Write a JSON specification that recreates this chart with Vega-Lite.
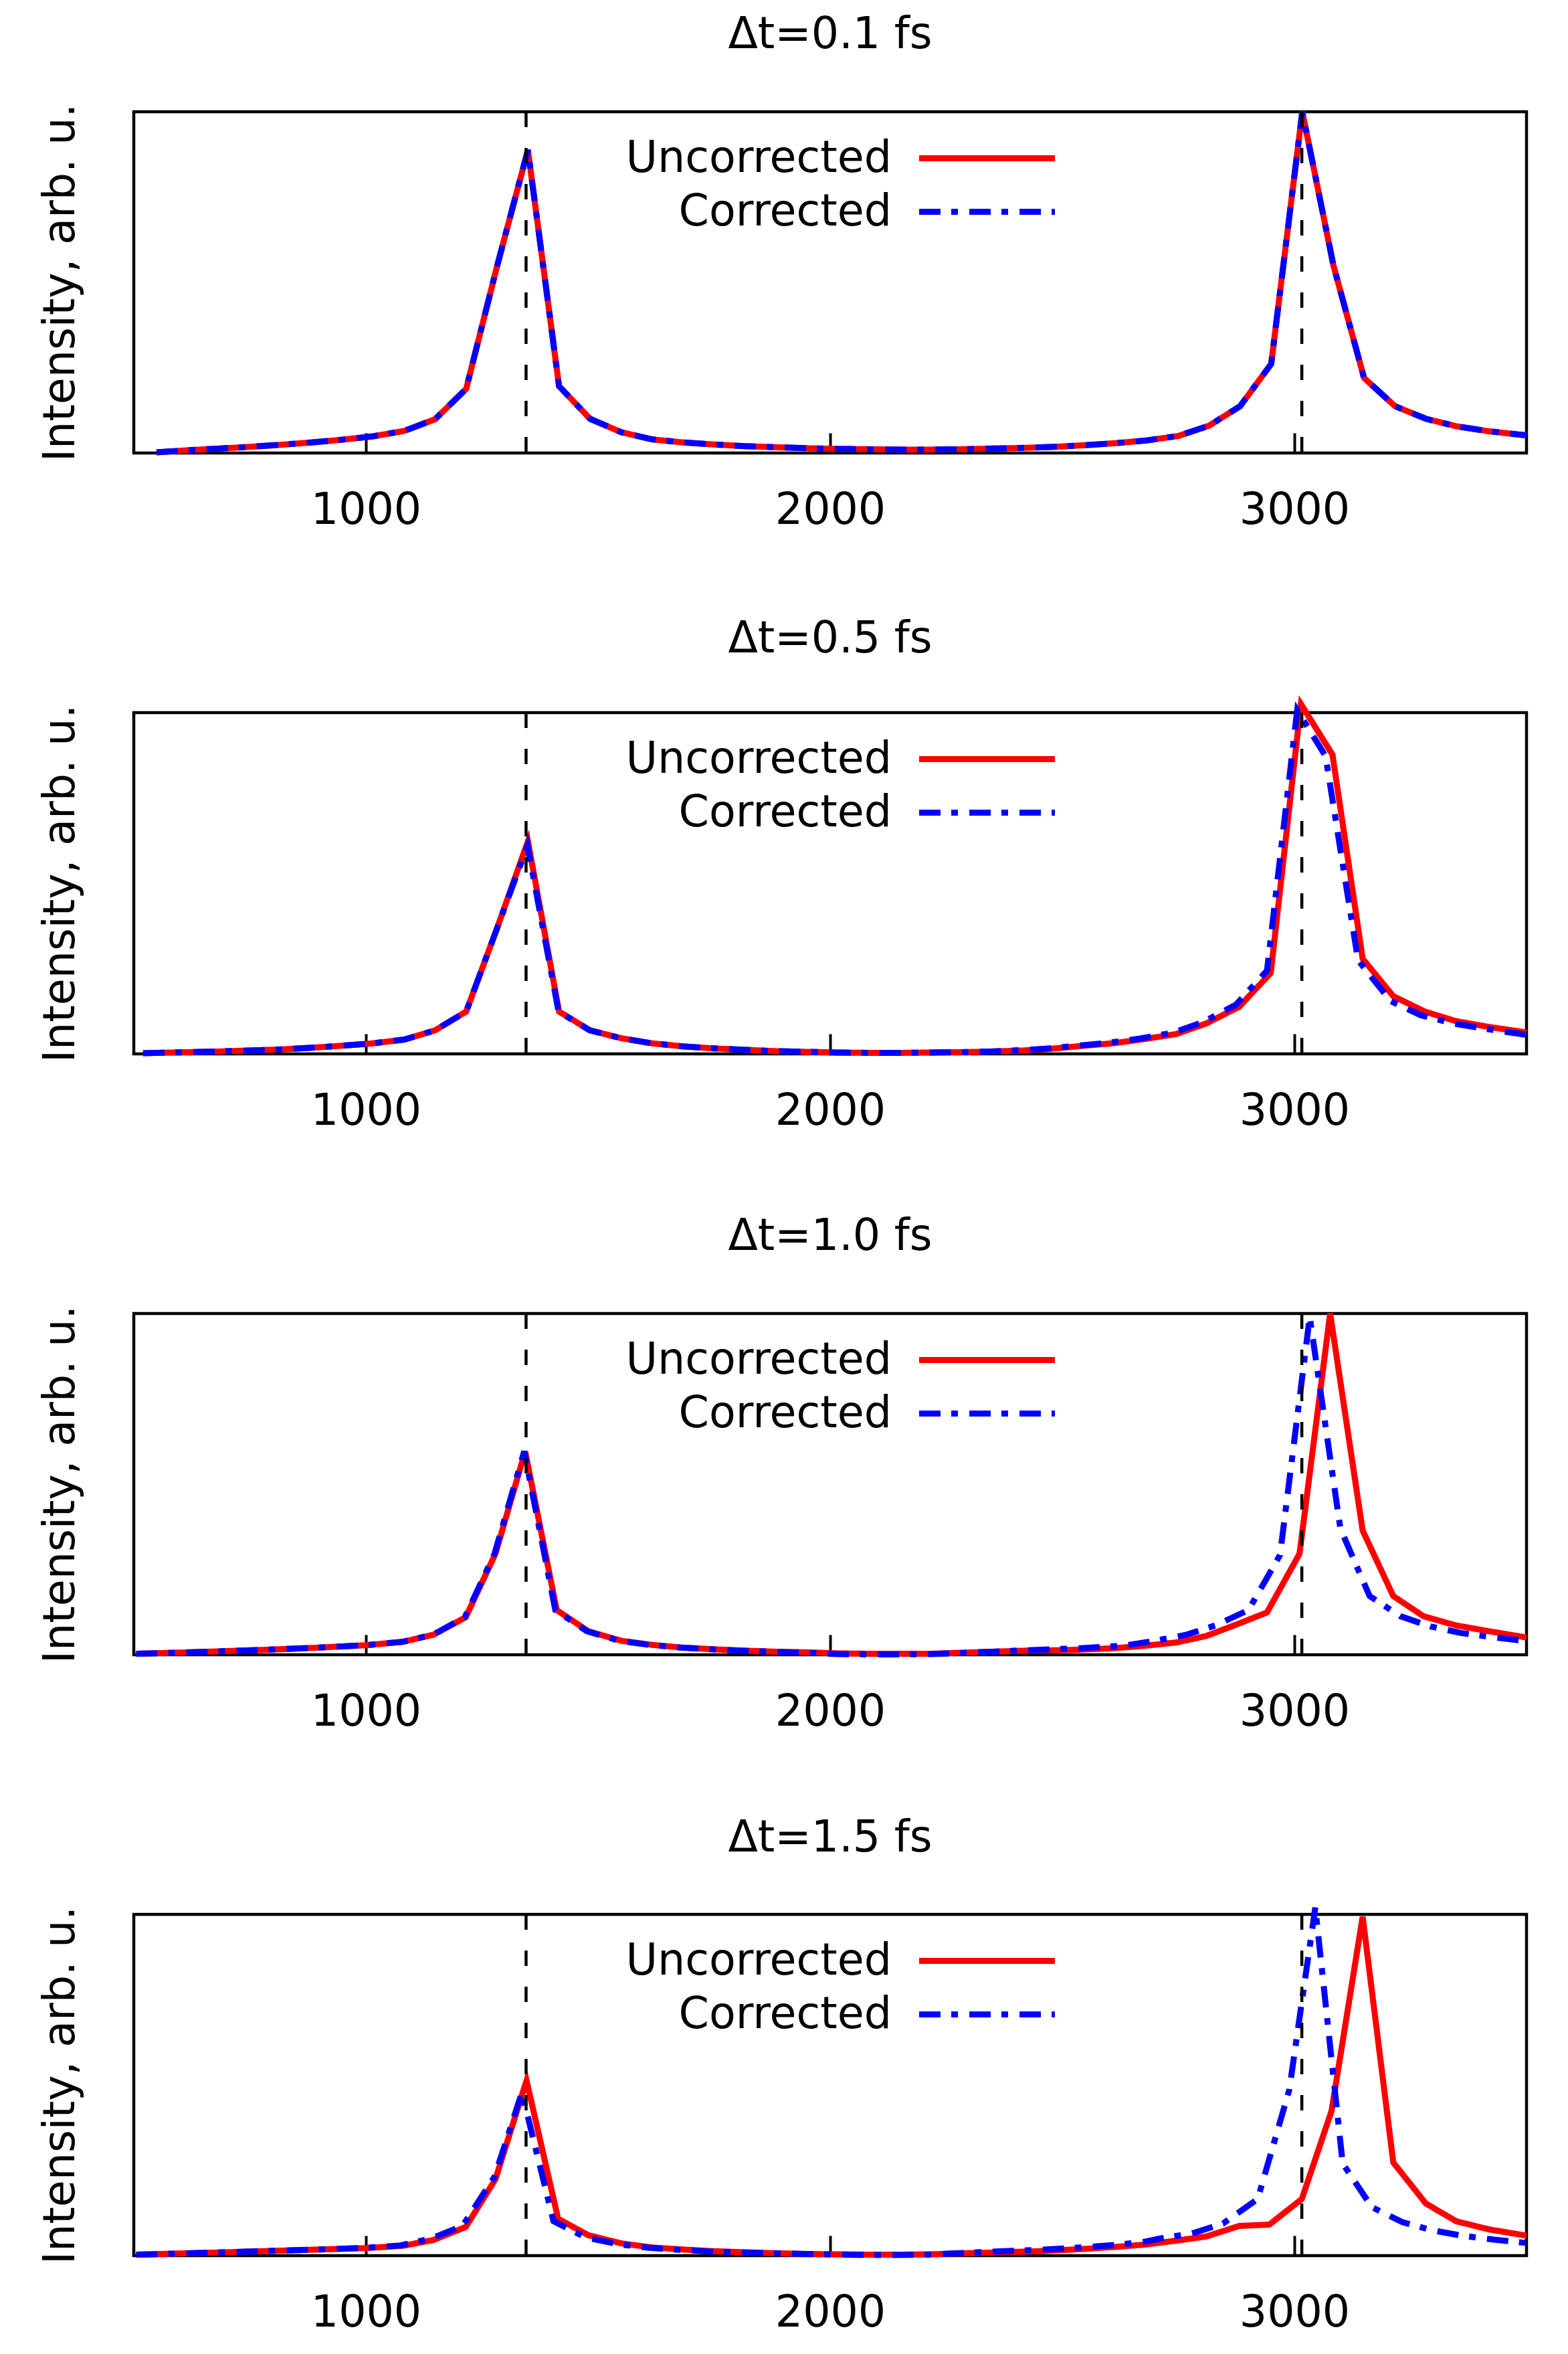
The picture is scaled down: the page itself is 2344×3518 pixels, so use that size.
{
  "$schema": "https://vega.github.io/schema/vega-lite/v6.json",
  "description": "Vibrational spectra for four time steps, uncorrected vs corrected.",
  "background": "white",
  "padding": {"left": 55, "top": 17, "right": 10, "bottom": 10},
  "config": {
    "font": "DejaVu Sans",
    "view": {"stroke": "black", "strokeWidth": 4.5},
    "title": {"fontSize": 65, "fontWeight": "normal", "color": "black", "baseline": "alphabetic", "offset": 63, "anchor": "middle", "frame": "group"},
    "axisX": {"tickSize": -30, "tickWidth": 4, "tickColor": "black", "domain": false, "grid": false, "labelFontSize": 65, "labelColor": "black", "labelPadding": 84, "labelLimit": 0, "title": null},
    "axisY": {"labels": false, "ticks": false, "domain": false, "grid": false, "titleFontSize": 65, "titleFontWeight": "normal", "titleColor": "black", "titlePadding": 76},
    "legend": {"symbolType": "M-4,0H4", "symbolSize": 2576, "symbolStrokeWidth": 9, "labelAlign": "right", "labelOffset": -175, "labelFontSize": 65, "labelColor": "black", "padding": 0, "rowPadding": 14, "labelLimit": 0}
  },
  "datasets": {
    "refs": [{"x": 1345}, {"x": 3016}],
    "spectra": [
      {"p": "0.1", "s": "Uncorrected", "x": 549, "y": 0.002},
      {"p": "0.1", "s": "Uncorrected", "x": 616, "y": 0.008},
      {"p": "0.1", "s": "Uncorrected", "x": 683, "y": 0.013},
      {"p": "0.1", "s": "Uncorrected", "x": 749, "y": 0.018},
      {"p": "0.1", "s": "Uncorrected", "x": 816, "y": 0.024},
      {"p": "0.1", "s": "Uncorrected", "x": 883, "y": 0.031},
      {"p": "0.1", "s": "Uncorrected", "x": 949, "y": 0.039},
      {"p": "0.1", "s": "Uncorrected", "x": 1016, "y": 0.049},
      {"p": "0.1", "s": "Uncorrected", "x": 1083, "y": 0.065},
      {"p": "0.1", "s": "Uncorrected", "x": 1149, "y": 0.099},
      {"p": "0.1", "s": "Uncorrected", "x": 1216, "y": 0.188},
      {"p": "0.1", "s": "Uncorrected", "x": 1283, "y": 0.55},
      {"p": "0.1", "s": "Uncorrected", "x": 1349, "y": 0.888},
      {"p": "0.1", "s": "Uncorrected", "x": 1416, "y": 0.196},
      {"p": "0.1", "s": "Uncorrected", "x": 1483, "y": 0.1},
      {"p": "0.1", "s": "Uncorrected", "x": 1550, "y": 0.061},
      {"p": "0.1", "s": "Uncorrected", "x": 1616, "y": 0.04},
      {"p": "0.1", "s": "Uncorrected", "x": 1683, "y": 0.031},
      {"p": "0.1", "s": "Uncorrected", "x": 1750, "y": 0.025},
      {"p": "0.1", "s": "Uncorrected", "x": 1816, "y": 0.02},
      {"p": "0.1", "s": "Uncorrected", "x": 1883, "y": 0.017},
      {"p": "0.1", "s": "Uncorrected", "x": 1950, "y": 0.014},
      {"p": "0.1", "s": "Uncorrected", "x": 2016, "y": 0.012},
      {"p": "0.1", "s": "Uncorrected", "x": 2083, "y": 0.011},
      {"p": "0.1", "s": "Uncorrected", "x": 2149, "y": 0.01},
      {"p": "0.1", "s": "Uncorrected", "x": 2216, "y": 0.01},
      {"p": "0.1", "s": "Uncorrected", "x": 2283, "y": 0.011},
      {"p": "0.1", "s": "Uncorrected", "x": 2350, "y": 0.013},
      {"p": "0.1", "s": "Uncorrected", "x": 2416, "y": 0.015},
      {"p": "0.1", "s": "Uncorrected", "x": 2483, "y": 0.018},
      {"p": "0.1", "s": "Uncorrected", "x": 2550, "y": 0.023},
      {"p": "0.1", "s": "Uncorrected", "x": 2616, "y": 0.029},
      {"p": "0.1", "s": "Uncorrected", "x": 2683, "y": 0.037},
      {"p": "0.1", "s": "Uncorrected", "x": 2750, "y": 0.05},
      {"p": "0.1", "s": "Uncorrected", "x": 2816, "y": 0.08},
      {"p": "0.1", "s": "Uncorrected", "x": 2883, "y": 0.137},
      {"p": "0.1", "s": "Uncorrected", "x": 2950, "y": 0.261},
      {"p": "0.1", "s": "Uncorrected", "x": 3017, "y": 1.0},
      {"p": "0.1", "s": "Uncorrected", "x": 3084, "y": 0.55},
      {"p": "0.1", "s": "Uncorrected", "x": 3150, "y": 0.22},
      {"p": "0.1", "s": "Uncorrected", "x": 3217, "y": 0.137},
      {"p": "0.1", "s": "Uncorrected", "x": 3284, "y": 0.1},
      {"p": "0.1", "s": "Uncorrected", "x": 3350, "y": 0.078},
      {"p": "0.1", "s": "Uncorrected", "x": 3417, "y": 0.064},
      {"p": "0.1", "s": "Uncorrected", "x": 3484, "y": 0.054},
      {"p": "0.1", "s": "Uncorrected", "x": 3500, "y": 0.052},
      {"p": "0.1", "s": "Corrected", "x": 549, "y": 0.002},
      {"p": "0.1", "s": "Corrected", "x": 616, "y": 0.008},
      {"p": "0.1", "s": "Corrected", "x": 683, "y": 0.013},
      {"p": "0.1", "s": "Corrected", "x": 749, "y": 0.018},
      {"p": "0.1", "s": "Corrected", "x": 816, "y": 0.024},
      {"p": "0.1", "s": "Corrected", "x": 883, "y": 0.031},
      {"p": "0.1", "s": "Corrected", "x": 949, "y": 0.039},
      {"p": "0.1", "s": "Corrected", "x": 1016, "y": 0.049},
      {"p": "0.1", "s": "Corrected", "x": 1083, "y": 0.065},
      {"p": "0.1", "s": "Corrected", "x": 1149, "y": 0.099},
      {"p": "0.1", "s": "Corrected", "x": 1216, "y": 0.188},
      {"p": "0.1", "s": "Corrected", "x": 1283, "y": 0.55},
      {"p": "0.1", "s": "Corrected", "x": 1349, "y": 0.888},
      {"p": "0.1", "s": "Corrected", "x": 1416, "y": 0.196},
      {"p": "0.1", "s": "Corrected", "x": 1483, "y": 0.1},
      {"p": "0.1", "s": "Corrected", "x": 1550, "y": 0.061},
      {"p": "0.1", "s": "Corrected", "x": 1616, "y": 0.04},
      {"p": "0.1", "s": "Corrected", "x": 1683, "y": 0.031},
      {"p": "0.1", "s": "Corrected", "x": 1750, "y": 0.025},
      {"p": "0.1", "s": "Corrected", "x": 1816, "y": 0.02},
      {"p": "0.1", "s": "Corrected", "x": 1883, "y": 0.017},
      {"p": "0.1", "s": "Corrected", "x": 1950, "y": 0.014},
      {"p": "0.1", "s": "Corrected", "x": 2016, "y": 0.012},
      {"p": "0.1", "s": "Corrected", "x": 2083, "y": 0.011},
      {"p": "0.1", "s": "Corrected", "x": 2149, "y": 0.01},
      {"p": "0.1", "s": "Corrected", "x": 2216, "y": 0.01},
      {"p": "0.1", "s": "Corrected", "x": 2283, "y": 0.011},
      {"p": "0.1", "s": "Corrected", "x": 2350, "y": 0.013},
      {"p": "0.1", "s": "Corrected", "x": 2416, "y": 0.015},
      {"p": "0.1", "s": "Corrected", "x": 2483, "y": 0.018},
      {"p": "0.1", "s": "Corrected", "x": 2550, "y": 0.023},
      {"p": "0.1", "s": "Corrected", "x": 2616, "y": 0.029},
      {"p": "0.1", "s": "Corrected", "x": 2683, "y": 0.037},
      {"p": "0.1", "s": "Corrected", "x": 2750, "y": 0.05},
      {"p": "0.1", "s": "Corrected", "x": 2816, "y": 0.08},
      {"p": "0.1", "s": "Corrected", "x": 2883, "y": 0.137},
      {"p": "0.1", "s": "Corrected", "x": 2950, "y": 0.261},
      {"p": "0.1", "s": "Corrected", "x": 3017, "y": 1.0},
      {"p": "0.1", "s": "Corrected", "x": 3084, "y": 0.55},
      {"p": "0.1", "s": "Corrected", "x": 3150, "y": 0.22},
      {"p": "0.1", "s": "Corrected", "x": 3217, "y": 0.137},
      {"p": "0.1", "s": "Corrected", "x": 3284, "y": 0.1},
      {"p": "0.1", "s": "Corrected", "x": 3350, "y": 0.078},
      {"p": "0.1", "s": "Corrected", "x": 3417, "y": 0.064},
      {"p": "0.1", "s": "Corrected", "x": 3484, "y": 0.054},
      {"p": "0.1", "s": "Corrected", "x": 3500, "y": 0.052},

      {"p": "0.5", "s": "Uncorrected", "x": 520, "y": 0.002},
      {"p": "0.5", "s": "Uncorrected", "x": 549, "y": 0.003},
      {"p": "0.5", "s": "Uncorrected", "x": 616, "y": 0.005},
      {"p": "0.5", "s": "Uncorrected", "x": 683, "y": 0.007},
      {"p": "0.5", "s": "Uncorrected", "x": 749, "y": 0.01},
      {"p": "0.5", "s": "Uncorrected", "x": 816, "y": 0.013},
      {"p": "0.5", "s": "Uncorrected", "x": 883, "y": 0.018},
      {"p": "0.5", "s": "Uncorrected", "x": 949, "y": 0.024},
      {"p": "0.5", "s": "Uncorrected", "x": 1016, "y": 0.031},
      {"p": "0.5", "s": "Uncorrected", "x": 1083, "y": 0.042},
      {"p": "0.5", "s": "Uncorrected", "x": 1149, "y": 0.069},
      {"p": "0.5", "s": "Uncorrected", "x": 1216, "y": 0.124},
      {"p": "0.5", "s": "Uncorrected", "x": 1283, "y": 0.37},
      {"p": "0.5", "s": "Uncorrected", "x": 1349, "y": 0.623},
      {"p": "0.5", "s": "Uncorrected", "x": 1416, "y": 0.124},
      {"p": "0.5", "s": "Uncorrected", "x": 1483, "y": 0.069},
      {"p": "0.5", "s": "Uncorrected", "x": 1550, "y": 0.046},
      {"p": "0.5", "s": "Uncorrected", "x": 1616, "y": 0.031},
      {"p": "0.5", "s": "Uncorrected", "x": 1683, "y": 0.022},
      {"p": "0.5", "s": "Uncorrected", "x": 1750, "y": 0.016},
      {"p": "0.5", "s": "Uncorrected", "x": 1816, "y": 0.012},
      {"p": "0.5", "s": "Uncorrected", "x": 1883, "y": 0.008},
      {"p": "0.5", "s": "Uncorrected", "x": 1950, "y": 0.006},
      {"p": "0.5", "s": "Uncorrected", "x": 2016, "y": 0.004},
      {"p": "0.5", "s": "Uncorrected", "x": 2083, "y": 0.003},
      {"p": "0.5", "s": "Uncorrected", "x": 2149, "y": 0.003},
      {"p": "0.5", "s": "Uncorrected", "x": 2216, "y": 0.004},
      {"p": "0.5", "s": "Uncorrected", "x": 2283, "y": 0.005},
      {"p": "0.5", "s": "Uncorrected", "x": 2350, "y": 0.007},
      {"p": "0.5", "s": "Uncorrected", "x": 2416, "y": 0.01},
      {"p": "0.5", "s": "Uncorrected", "x": 2468, "y": 0.014},
      {"p": "0.5", "s": "Uncorrected", "x": 2539, "y": 0.023},
      {"p": "0.5", "s": "Uncorrected", "x": 2609, "y": 0.031},
      {"p": "0.5", "s": "Uncorrected", "x": 2675, "y": 0.043},
      {"p": "0.5", "s": "Uncorrected", "x": 2745, "y": 0.058},
      {"p": "0.5", "s": "Uncorrected", "x": 2810, "y": 0.089},
      {"p": "0.5", "s": "Uncorrected", "x": 2881, "y": 0.138},
      {"p": "0.5", "s": "Uncorrected", "x": 2949, "y": 0.237},
      {"p": "0.5", "s": "Uncorrected", "x": 3014, "y": 1.025},
      {"p": "0.5", "s": "Uncorrected", "x": 3082, "y": 0.877},
      {"p": "0.5", "s": "Uncorrected", "x": 3147, "y": 0.279},
      {"p": "0.5", "s": "Uncorrected", "x": 3213, "y": 0.169},
      {"p": "0.5", "s": "Uncorrected", "x": 3281, "y": 0.124},
      {"p": "0.5", "s": "Uncorrected", "x": 3348, "y": 0.096},
      {"p": "0.5", "s": "Uncorrected", "x": 3419, "y": 0.079},
      {"p": "0.5", "s": "Uncorrected", "x": 3489, "y": 0.065},
      {"p": "0.5", "s": "Uncorrected", "x": 3500, "y": 0.063},
      {"p": "0.5", "s": "Corrected", "x": 520, "y": 0.002},
      {"p": "0.5", "s": "Corrected", "x": 549, "y": 0.003},
      {"p": "0.5", "s": "Corrected", "x": 616, "y": 0.005},
      {"p": "0.5", "s": "Corrected", "x": 683, "y": 0.007},
      {"p": "0.5", "s": "Corrected", "x": 749, "y": 0.01},
      {"p": "0.5", "s": "Corrected", "x": 816, "y": 0.013},
      {"p": "0.5", "s": "Corrected", "x": 883, "y": 0.018},
      {"p": "0.5", "s": "Corrected", "x": 949, "y": 0.024},
      {"p": "0.5", "s": "Corrected", "x": 1016, "y": 0.031},
      {"p": "0.5", "s": "Corrected", "x": 1083, "y": 0.042},
      {"p": "0.5", "s": "Corrected", "x": 1149, "y": 0.069},
      {"p": "0.5", "s": "Corrected", "x": 1216, "y": 0.124},
      {"p": "0.5", "s": "Corrected", "x": 1283, "y": 0.37},
      {"p": "0.5", "s": "Corrected", "x": 1348, "y": 0.61},
      {"p": "0.5", "s": "Corrected", "x": 1415, "y": 0.124},
      {"p": "0.5", "s": "Corrected", "x": 1482, "y": 0.069},
      {"p": "0.5", "s": "Corrected", "x": 1549, "y": 0.046},
      {"p": "0.5", "s": "Corrected", "x": 1615, "y": 0.031},
      {"p": "0.5", "s": "Corrected", "x": 1682, "y": 0.022},
      {"p": "0.5", "s": "Corrected", "x": 1749, "y": 0.016},
      {"p": "0.5", "s": "Corrected", "x": 1815, "y": 0.012},
      {"p": "0.5", "s": "Corrected", "x": 1882, "y": 0.008},
      {"p": "0.5", "s": "Corrected", "x": 1948, "y": 0.006},
      {"p": "0.5", "s": "Corrected", "x": 2014, "y": 0.004},
      {"p": "0.5", "s": "Corrected", "x": 2081, "y": 0.003},
      {"p": "0.5", "s": "Corrected", "x": 2147, "y": 0.003},
      {"p": "0.5", "s": "Corrected", "x": 2213, "y": 0.004},
      {"p": "0.5", "s": "Corrected", "x": 2280, "y": 0.005},
      {"p": "0.5", "s": "Corrected", "x": 2345, "y": 0.007},
      {"p": "0.5", "s": "Corrected", "x": 2411, "y": 0.011},
      {"p": "0.5", "s": "Corrected", "x": 2463, "y": 0.015},
      {"p": "0.5", "s": "Corrected", "x": 2533, "y": 0.024},
      {"p": "0.5", "s": "Corrected", "x": 2603, "y": 0.033},
      {"p": "0.5", "s": "Corrected", "x": 2668, "y": 0.045},
      {"p": "0.5", "s": "Corrected", "x": 2738, "y": 0.062},
      {"p": "0.5", "s": "Corrected", "x": 2803, "y": 0.093},
      {"p": "0.5", "s": "Corrected", "x": 2874, "y": 0.144},
      {"p": "0.5", "s": "Corrected", "x": 2941, "y": 0.244},
      {"p": "0.5", "s": "Corrected", "x": 3006, "y": 1.007},
      {"p": "0.5", "s": "Corrected", "x": 3067, "y": 0.873},
      {"p": "0.5", "s": "Corrected", "x": 3137, "y": 0.275},
      {"p": "0.5", "s": "Corrected", "x": 3207, "y": 0.155},
      {"p": "0.5", "s": "Corrected", "x": 3273, "y": 0.113},
      {"p": "0.5", "s": "Corrected", "x": 3343, "y": 0.089},
      {"p": "0.5", "s": "Corrected", "x": 3419, "y": 0.072},
      {"p": "0.5", "s": "Corrected", "x": 3494, "y": 0.057},
      {"p": "0.5", "s": "Corrected", "x": 3500, "y": 0.057},

      {"p": "1.0", "s": "Uncorrected", "x": 505, "y": 0.003},
      {"p": "1.0", "s": "Uncorrected", "x": 590, "y": 0.006},
      {"p": "1.0", "s": "Uncorrected", "x": 683, "y": 0.01},
      {"p": "1.0", "s": "Uncorrected", "x": 792, "y": 0.015},
      {"p": "1.0", "s": "Uncorrected", "x": 883, "y": 0.02},
      {"p": "1.0", "s": "Uncorrected", "x": 1000, "y": 0.028},
      {"p": "1.0", "s": "Uncorrected", "x": 1080, "y": 0.038},
      {"p": "1.0", "s": "Uncorrected", "x": 1146, "y": 0.059},
      {"p": "1.0", "s": "Uncorrected", "x": 1215, "y": 0.11},
      {"p": "1.0", "s": "Uncorrected", "x": 1279, "y": 0.296},
      {"p": "1.0", "s": "Uncorrected", "x": 1343, "y": 0.596},
      {"p": "1.0", "s": "Uncorrected", "x": 1411, "y": 0.131},
      {"p": "1.0", "s": "Uncorrected", "x": 1479, "y": 0.069},
      {"p": "1.0", "s": "Uncorrected", "x": 1550, "y": 0.041},
      {"p": "1.0", "s": "Uncorrected", "x": 1616, "y": 0.029},
      {"p": "1.0", "s": "Uncorrected", "x": 1682, "y": 0.021},
      {"p": "1.0", "s": "Uncorrected", "x": 1750, "y": 0.016},
      {"p": "1.0", "s": "Uncorrected", "x": 1816, "y": 0.012},
      {"p": "1.0", "s": "Uncorrected", "x": 1883, "y": 0.009},
      {"p": "1.0", "s": "Uncorrected", "x": 1955, "y": 0.007},
      {"p": "1.0", "s": "Uncorrected", "x": 2016, "y": 0.004},
      {"p": "1.0", "s": "Uncorrected", "x": 2083, "y": 0.003},
      {"p": "1.0", "s": "Uncorrected", "x": 2149, "y": 0.003},
      {"p": "1.0", "s": "Uncorrected", "x": 2217, "y": 0.003},
      {"p": "1.0", "s": "Uncorrected", "x": 2283, "y": 0.006},
      {"p": "1.0", "s": "Uncorrected", "x": 2350, "y": 0.009},
      {"p": "1.0", "s": "Uncorrected", "x": 2418, "y": 0.012},
      {"p": "1.0", "s": "Uncorrected", "x": 2480, "y": 0.013},
      {"p": "1.0", "s": "Uncorrected", "x": 2539, "y": 0.015},
      {"p": "1.0", "s": "Uncorrected", "x": 2609, "y": 0.019},
      {"p": "1.0", "s": "Uncorrected", "x": 2675, "y": 0.026},
      {"p": "1.0", "s": "Uncorrected", "x": 2745, "y": 0.036},
      {"p": "1.0", "s": "Uncorrected", "x": 2810, "y": 0.055},
      {"p": "1.0", "s": "Uncorrected", "x": 2876, "y": 0.089},
      {"p": "1.0", "s": "Uncorrected", "x": 2941, "y": 0.124},
      {"p": "1.0", "s": "Uncorrected", "x": 3011, "y": 0.296},
      {"p": "1.0", "s": "Uncorrected", "x": 3077, "y": 1.0},
      {"p": "1.0", "s": "Uncorrected", "x": 3147, "y": 0.364},
      {"p": "1.0", "s": "Uncorrected", "x": 3213, "y": 0.172},
      {"p": "1.0", "s": "Uncorrected", "x": 3278, "y": 0.113},
      {"p": "1.0", "s": "Uncorrected", "x": 3348, "y": 0.086},
      {"p": "1.0", "s": "Uncorrected", "x": 3419, "y": 0.069},
      {"p": "1.0", "s": "Uncorrected", "x": 3494, "y": 0.052},
      {"p": "1.0", "s": "Uncorrected", "x": 3500, "y": 0.051},
      {"p": "1.0", "s": "Corrected", "x": 505, "y": 0.003},
      {"p": "1.0", "s": "Corrected", "x": 590, "y": 0.006},
      {"p": "1.0", "s": "Corrected", "x": 683, "y": 0.01},
      {"p": "1.0", "s": "Corrected", "x": 792, "y": 0.015},
      {"p": "1.0", "s": "Corrected", "x": 883, "y": 0.02},
      {"p": "1.0", "s": "Corrected", "x": 1000, "y": 0.028},
      {"p": "1.0", "s": "Corrected", "x": 1079, "y": 0.038},
      {"p": "1.0", "s": "Corrected", "x": 1145, "y": 0.059},
      {"p": "1.0", "s": "Corrected", "x": 1213, "y": 0.11},
      {"p": "1.0", "s": "Corrected", "x": 1277, "y": 0.296},
      {"p": "1.0", "s": "Corrected", "x": 1341, "y": 0.596},
      {"p": "1.0", "s": "Corrected", "x": 1408, "y": 0.131},
      {"p": "1.0", "s": "Corrected", "x": 1476, "y": 0.069},
      {"p": "1.0", "s": "Corrected", "x": 1546, "y": 0.041},
      {"p": "1.0", "s": "Corrected", "x": 1612, "y": 0.029},
      {"p": "1.0", "s": "Corrected", "x": 1677, "y": 0.021},
      {"p": "1.0", "s": "Corrected", "x": 1744, "y": 0.016},
      {"p": "1.0", "s": "Corrected", "x": 1810, "y": 0.012},
      {"p": "1.0", "s": "Corrected", "x": 1876, "y": 0.009},
      {"p": "1.0", "s": "Corrected", "x": 1947, "y": 0.006},
      {"p": "1.0", "s": "Corrected", "x": 2016, "y": 0.002},
      {"p": "1.0", "s": "Corrected", "x": 2083, "y": 0.001},
      {"p": "1.0", "s": "Corrected", "x": 2149, "y": 0.001},
      {"p": "1.0", "s": "Corrected", "x": 2217, "y": 0.002},
      {"p": "1.0", "s": "Corrected", "x": 2283, "y": 0.005},
      {"p": "1.0", "s": "Corrected", "x": 2350, "y": 0.009},
      {"p": "1.0", "s": "Corrected", "x": 2418, "y": 0.013},
      {"p": "1.0", "s": "Corrected", "x": 2475, "y": 0.016},
      {"p": "1.0", "s": "Corrected", "x": 2539, "y": 0.019},
      {"p": "1.0", "s": "Corrected", "x": 2635, "y": 0.027},
      {"p": "1.0", "s": "Corrected", "x": 2700, "y": 0.041},
      {"p": "1.0", "s": "Corrected", "x": 2765, "y": 0.058},
      {"p": "1.0", "s": "Corrected", "x": 2830, "y": 0.086},
      {"p": "1.0", "s": "Corrected", "x": 2901, "y": 0.131},
      {"p": "1.0", "s": "Corrected", "x": 2969, "y": 0.292},
      {"p": "1.0", "s": "Corrected", "x": 3033, "y": 0.99},
      {"p": "1.0", "s": "Corrected", "x": 3099, "y": 0.37},
      {"p": "1.0", "s": "Corrected", "x": 3162, "y": 0.172},
      {"p": "1.0", "s": "Corrected", "x": 3228, "y": 0.113},
      {"p": "1.0", "s": "Corrected", "x": 3293, "y": 0.083},
      {"p": "1.0", "s": "Corrected", "x": 3358, "y": 0.064},
      {"p": "1.0", "s": "Corrected", "x": 3424, "y": 0.052},
      {"p": "1.0", "s": "Corrected", "x": 3494, "y": 0.041},
      {"p": "1.0", "s": "Corrected", "x": 3500, "y": 0.04},

      {"p": "1.5", "s": "Uncorrected", "x": 505, "y": 0.003},
      {"p": "1.5", "s": "Uncorrected", "x": 590, "y": 0.006},
      {"p": "1.5", "s": "Uncorrected", "x": 700, "y": 0.01},
      {"p": "1.5", "s": "Uncorrected", "x": 800, "y": 0.014},
      {"p": "1.5", "s": "Uncorrected", "x": 900, "y": 0.018},
      {"p": "1.5", "s": "Uncorrected", "x": 1000, "y": 0.022},
      {"p": "1.5", "s": "Uncorrected", "x": 1080, "y": 0.029},
      {"p": "1.5", "s": "Uncorrected", "x": 1146, "y": 0.046},
      {"p": "1.5", "s": "Uncorrected", "x": 1215, "y": 0.084},
      {"p": "1.5", "s": "Uncorrected", "x": 1279, "y": 0.224},
      {"p": "1.5", "s": "Uncorrected", "x": 1346, "y": 0.513},
      {"p": "1.5", "s": "Uncorrected", "x": 1414, "y": 0.108},
      {"p": "1.5", "s": "Uncorrected", "x": 1479, "y": 0.06},
      {"p": "1.5", "s": "Uncorrected", "x": 1550, "y": 0.036},
      {"p": "1.5", "s": "Uncorrected", "x": 1616, "y": 0.024},
      {"p": "1.5", "s": "Uncorrected", "x": 1682, "y": 0.018},
      {"p": "1.5", "s": "Uncorrected", "x": 1750, "y": 0.013},
      {"p": "1.5", "s": "Uncorrected", "x": 1816, "y": 0.01},
      {"p": "1.5", "s": "Uncorrected", "x": 1883, "y": 0.007},
      {"p": "1.5", "s": "Uncorrected", "x": 1950, "y": 0.005},
      {"p": "1.5", "s": "Uncorrected", "x": 2016, "y": 0.004},
      {"p": "1.5", "s": "Uncorrected", "x": 2083, "y": 0.003},
      {"p": "1.5", "s": "Uncorrected", "x": 2149, "y": 0.003},
      {"p": "1.5", "s": "Uncorrected", "x": 2217, "y": 0.004},
      {"p": "1.5", "s": "Uncorrected", "x": 2318, "y": 0.008},
      {"p": "1.5", "s": "Uncorrected", "x": 2448, "y": 0.013},
      {"p": "1.5", "s": "Uncorrected", "x": 2539, "y": 0.019},
      {"p": "1.5", "s": "Uncorrected", "x": 2609, "y": 0.025},
      {"p": "1.5", "s": "Uncorrected", "x": 2675, "y": 0.032},
      {"p": "1.5", "s": "Uncorrected", "x": 2740, "y": 0.043},
      {"p": "1.5", "s": "Uncorrected", "x": 2810, "y": 0.056},
      {"p": "1.5", "s": "Uncorrected", "x": 2881, "y": 0.087},
      {"p": "1.5", "s": "Uncorrected", "x": 2946, "y": 0.091},
      {"p": "1.5", "s": "Uncorrected", "x": 3016, "y": 0.166},
      {"p": "1.5", "s": "Uncorrected", "x": 3080, "y": 0.424},
      {"p": "1.5", "s": "Uncorrected", "x": 3147, "y": 0.993},
      {"p": "1.5", "s": "Uncorrected", "x": 3213, "y": 0.273},
      {"p": "1.5", "s": "Uncorrected", "x": 3283, "y": 0.153},
      {"p": "1.5", "s": "Uncorrected", "x": 3348, "y": 0.101},
      {"p": "1.5", "s": "Uncorrected", "x": 3419, "y": 0.077},
      {"p": "1.5", "s": "Uncorrected", "x": 3494, "y": 0.06},
      {"p": "1.5", "s": "Uncorrected", "x": 3500, "y": 0.059},
      {"p": "1.5", "s": "Corrected", "x": 505, "y": 0.003},
      {"p": "1.5", "s": "Corrected", "x": 590, "y": 0.006},
      {"p": "1.5", "s": "Corrected", "x": 700, "y": 0.01},
      {"p": "1.5", "s": "Corrected", "x": 800, "y": 0.014},
      {"p": "1.5", "s": "Corrected", "x": 900, "y": 0.018},
      {"p": "1.5", "s": "Corrected", "x": 1000, "y": 0.023},
      {"p": "1.5", "s": "Corrected", "x": 1075, "y": 0.03},
      {"p": "1.5", "s": "Corrected", "x": 1140, "y": 0.05},
      {"p": "1.5", "s": "Corrected", "x": 1208, "y": 0.087},
      {"p": "1.5", "s": "Corrected", "x": 1277, "y": 0.231},
      {"p": "1.5", "s": "Corrected", "x": 1336, "y": 0.478},
      {"p": "1.5", "s": "Corrected", "x": 1404, "y": 0.101},
      {"p": "1.5", "s": "Corrected", "x": 1474, "y": 0.053},
      {"p": "1.5", "s": "Corrected", "x": 1545, "y": 0.033},
      {"p": "1.5", "s": "Corrected", "x": 1610, "y": 0.023},
      {"p": "1.5", "s": "Corrected", "x": 1676, "y": 0.017},
      {"p": "1.5", "s": "Corrected", "x": 1742, "y": 0.012},
      {"p": "1.5", "s": "Corrected", "x": 1810, "y": 0.009},
      {"p": "1.5", "s": "Corrected", "x": 1876, "y": 0.007},
      {"p": "1.5", "s": "Corrected", "x": 1943, "y": 0.005},
      {"p": "1.5", "s": "Corrected", "x": 2010, "y": 0.003},
      {"p": "1.5", "s": "Corrected", "x": 2076, "y": 0.002},
      {"p": "1.5", "s": "Corrected", "x": 2143, "y": 0.002},
      {"p": "1.5", "s": "Corrected", "x": 2210, "y": 0.003},
      {"p": "1.5", "s": "Corrected", "x": 2318, "y": 0.01},
      {"p": "1.5", "s": "Corrected", "x": 2448, "y": 0.017},
      {"p": "1.5", "s": "Corrected", "x": 2539, "y": 0.024},
      {"p": "1.5", "s": "Corrected", "x": 2609, "y": 0.031},
      {"p": "1.5", "s": "Corrected", "x": 2675, "y": 0.04},
      {"p": "1.5", "s": "Corrected", "x": 2710, "y": 0.05},
      {"p": "1.5", "s": "Corrected", "x": 2780, "y": 0.065},
      {"p": "1.5", "s": "Corrected", "x": 2846, "y": 0.094},
      {"p": "1.5", "s": "Corrected", "x": 2921, "y": 0.166},
      {"p": "1.5", "s": "Corrected", "x": 2989, "y": 0.486},
      {"p": "1.5", "s": "Corrected", "x": 3045, "y": 1.02},
      {"p": "1.5", "s": "Corrected", "x": 3104, "y": 0.27},
      {"p": "1.5", "s": "Corrected", "x": 3167, "y": 0.142},
      {"p": "1.5", "s": "Corrected", "x": 3233, "y": 0.098},
      {"p": "1.5", "s": "Corrected", "x": 3298, "y": 0.074},
      {"p": "1.5", "s": "Corrected", "x": 3363, "y": 0.058},
      {"p": "1.5", "s": "Corrected", "x": 3429, "y": 0.047},
      {"p": "1.5", "s": "Corrected", "x": 3494, "y": 0.038},
      {"p": "1.5", "s": "Corrected", "x": 3500, "y": 0.038}
    ]
  },
  "bounds": "flush",
  "spacing": 388,
  "resolve": {"legend": {"color": "independent", "strokeDash": "independent"}},
  "vconcat": [
    {
      "title": "Δt=0.1 fs",
      "width": 2082, "height": 510,
      "layer": [
        {
          "data": {"name": "spectra"},
          "transform": [{"filter": "datum.p == '0.1' && datum.s == 'Uncorrected'"}],
          "mark": {"type": "line", "strokeWidth": 9},
          "encoding": {
            "x": {"field": "x", "type": "quantitative", "scale": {"domain": [500, 3500], "nice": false, "zero": false}, "axis": {"values": [1000, 2000, 3000], "format": "d"}},
            "y": {"field": "y", "type": "quantitative", "scale": {"domain": [0, 1], "nice": false}, "axis": {"title": "Intensity, arb. u."}},
            "color": {"field": "s", "type": "nominal", "scale": {"domain": ["Uncorrected", "Corrected"], "range": ["#ff0000", "#0000ff"]}, "legend": {"title": null, "orient": "none", "legendX": 1243, "legendY": 37}},
            "strokeDash": {"field": "s", "type": "nominal", "scale": {"domain": ["Uncorrected", "Corrected"], "range": [[1, 0], [32, 16, 10, 17]]}, "legend": {"title": null, "orient": "none", "legendX": 1243, "legendY": 37}}
          }
        },
        {
          "data": {"name": "spectra"},
          "transform": [{"filter": "datum.p == '0.1' && datum.s == 'Corrected'"}],
          "mark": {"type": "line", "strokeWidth": 9},
          "encoding": {
            "x": {"field": "x", "type": "quantitative"},
            "y": {"field": "y", "type": "quantitative"},
            "color": {"field": "s", "type": "nominal"},
            "strokeDash": {"field": "s", "type": "nominal"}
          }
        },
        {
          "data": {"name": "refs"},
          "mark": {"type": "rule", "color": "black", "strokeWidth": 4.5, "strokeDash": [23, 31]},
          "encoding": {"x": {"field": "x", "type": "quantitative"}}
        }
      ]
    },
    {
      "title": {"text": "Δt=0.5 fs", "offset": 45},
      "width": 2082, "height": 510,
      "layer": [
        {
          "data": {"name": "spectra"},
          "transform": [{"filter": "datum.p == '0.5' && datum.s == 'Uncorrected'"}],
          "mark": {"type": "line", "strokeWidth": 9},
          "encoding": {
            "x": {"field": "x", "type": "quantitative", "scale": {"domain": [500, 3500], "nice": false, "zero": false}, "axis": {"values": [1000, 2000, 3000], "format": "d"}},
            "y": {"field": "y", "type": "quantitative", "scale": {"domain": [0, 1], "nice": false}, "axis": {"title": "Intensity, arb. u."}},
            "color": {"field": "s", "type": "nominal", "scale": {"domain": ["Uncorrected", "Corrected"], "range": ["#ff0000", "#0000ff"]}, "legend": {"title": null, "orient": "none", "legendX": 1243, "legendY": 37}},
            "strokeDash": {"field": "s", "type": "nominal", "scale": {"domain": ["Uncorrected", "Corrected"], "range": [[1, 0], [32, 16, 10, 17]]}, "legend": {"title": null, "orient": "none", "legendX": 1243, "legendY": 37}}
          }
        },
        {
          "data": {"name": "spectra"},
          "transform": [{"filter": "datum.p == '0.5' && datum.s == 'Corrected'"}],
          "mark": {"type": "line", "strokeWidth": 9},
          "encoding": {
            "x": {"field": "x", "type": "quantitative"},
            "y": {"field": "y", "type": "quantitative"},
            "color": {"field": "s", "type": "nominal"},
            "strokeDash": {"field": "s", "type": "nominal"}
          }
        },
        {
          "data": {"name": "refs"},
          "mark": {"type": "rule", "color": "black", "strokeWidth": 4.5, "strokeDash": [23, 31]},
          "encoding": {"x": {"field": "x", "type": "quantitative"}}
        }
      ]
    },
    {
      "title": "Δt=1.0 fs",
      "width": 2082, "height": 510,
      "layer": [
        {
          "data": {"name": "spectra"},
          "transform": [{"filter": "datum.p == '1.0' && datum.s == 'Uncorrected'"}],
          "mark": {"type": "line", "strokeWidth": 9},
          "encoding": {
            "x": {"field": "x", "type": "quantitative", "scale": {"domain": [500, 3500], "nice": false, "zero": false}, "axis": {"values": [1000, 2000, 3000], "format": "d"}},
            "y": {"field": "y", "type": "quantitative", "scale": {"domain": [0, 1], "nice": false}, "axis": {"title": "Intensity, arb. u."}},
            "color": {"field": "s", "type": "nominal", "scale": {"domain": ["Uncorrected", "Corrected"], "range": ["#ff0000", "#0000ff"]}, "legend": {"title": null, "orient": "none", "legendX": 1243, "legendY": 37}},
            "strokeDash": {"field": "s", "type": "nominal", "scale": {"domain": ["Uncorrected", "Corrected"], "range": [[1, 0], [32, 16, 10, 17]]}, "legend": {"title": null, "orient": "none", "legendX": 1243, "legendY": 37}}
          }
        },
        {
          "data": {"name": "spectra"},
          "transform": [{"filter": "datum.p == '1.0' && datum.s == 'Corrected'"}],
          "mark": {"type": "line", "strokeWidth": 9},
          "encoding": {
            "x": {"field": "x", "type": "quantitative"},
            "y": {"field": "y", "type": "quantitative"},
            "color": {"field": "s", "type": "nominal"},
            "strokeDash": {"field": "s", "type": "nominal"}
          }
        },
        {
          "data": {"name": "refs"},
          "mark": {"type": "rule", "color": "black", "strokeWidth": 4.5, "strokeDash": [23, 31]},
          "encoding": {"x": {"field": "x", "type": "quantitative"}}
        }
      ]
    },
    {
      "title": {"text": "Δt=1.5 fs", "offset": 52},
      "width": 2082, "height": 510,
      "layer": [
        {
          "data": {"name": "spectra"},
          "transform": [{"filter": "datum.p == '1.5' && datum.s == 'Uncorrected'"}],
          "mark": {"type": "line", "strokeWidth": 9},
          "encoding": {
            "x": {"field": "x", "type": "quantitative", "scale": {"domain": [500, 3500], "nice": false, "zero": false}, "axis": {"values": [1000, 2000, 3000], "format": "d"}},
            "y": {"field": "y", "type": "quantitative", "scale": {"domain": [0, 1], "nice": false}, "axis": {"title": "Intensity, arb. u."}},
            "color": {"field": "s", "type": "nominal", "scale": {"domain": ["Uncorrected", "Corrected"], "range": ["#ff0000", "#0000ff"]}, "legend": {"title": null, "orient": "none", "legendX": 1243, "legendY": 37}},
            "strokeDash": {"field": "s", "type": "nominal", "scale": {"domain": ["Uncorrected", "Corrected"], "range": [[1, 0], [32, 16, 10, 17]]}, "legend": {"title": null, "orient": "none", "legendX": 1243, "legendY": 37}}
          }
        },
        {
          "data": {"name": "spectra"},
          "transform": [{"filter": "datum.p == '1.5' && datum.s == 'Corrected'"}],
          "mark": {"type": "line", "strokeWidth": 9},
          "encoding": {
            "x": {"field": "x", "type": "quantitative"},
            "y": {"field": "y", "type": "quantitative"},
            "color": {"field": "s", "type": "nominal"},
            "strokeDash": {"field": "s", "type": "nominal"}
          }
        },
        {
          "data": {"name": "refs"},
          "mark": {"type": "rule", "color": "black", "strokeWidth": 4.5, "strokeDash": [23, 31]},
          "encoding": {"x": {"field": "x", "type": "quantitative"}}
        }
      ]
    }
  ]
}
